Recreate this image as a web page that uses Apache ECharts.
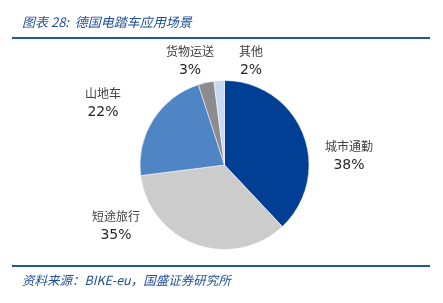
<!DOCTYPE html>
<html><head><meta charset="utf-8">
<script src="https://cdn.jsdelivr.net/npm/echarts@6/dist/echarts.min.js"></script>
<style>html,body{margin:0;padding:0;background:#fff}#c{width:443px;height:303px}</style>
</head><body><div id="c"></div>
<script>
const categories = ['城市通勤', '短途旅行', '山地车', '货物运送', '其他'];
const values = [38, 35, 22, 3, 2];
const colors = ['#003F94', '#CCCCCC', '#4F85C5', '#8C8C8C', '#C5D9F1'];
const titleText = '图表 28:  德国电踏车应用场景';
const sourceText = '资料来源：BIKE-eu，国盛证券研究所';
// label block centres (layout only)
const labelPos = [[349, 156], [116, 226], [103, 103], [190, 61], [251, 61]];

const chart = echarts.init(document.getElementById('c'));
chart.setOption({
  animation: false,
  graphic: [
    {type: 'text', left: 22, top: 16, style: {text: titleText, fill: '#1F4E9A', font: 'italic 13px "Noto Sans CJK SC"'}},
    {type: 'rect', shape: {x: 12, y: 37, width: 418, height: 2}, style: {fill: '#1F56A8'}},
    {type: 'rect', shape: {x: 12, y: 265, width: 418, height: 2}, style: {fill: '#1F56A8'}},
    {type: 'text', left: 22, top: 274, style: {text: sourceText, fill: '#1F4E9A', font: 'italic 12.5px "Noto Sans CJK SC"'}}
  ],
  series: [{
    type: 'pie',
    center: [224.5, 165],
    radius: 84.5,
    startAngle: 90,
    clockwise: true,
    data: categories.map((n, i) => ({name: n, value: values[i], itemStyle: {color: colors[i]}})),
    itemStyle: {borderColor: '#fff', borderWidth: 0.5},
    label: {
      show: true, position: 'outside',
      formatter: '{n|{b}}\n{p|{d}%}',
      align: 'center',
      rich: {
        n: {fontFamily: '"Noto Sans CJK SC"', fontSize: 12, color: '#404040', lineHeight: 18, align: 'center'},
        p: {fontFamily: '"DejaVu Sans", Verdana', fontSize: 14, color: '#262626', lineHeight: 19, align: 'center'}
      }
    },
    labelLine: {show: false},
    labelLayout: function (p) {
      const pos = labelPos[p.dataIndex];
      return {x: pos[0], y: pos[1], align: 'center', verticalAlign: 'middle'};
    }
  }]
});
</script></body></html>
